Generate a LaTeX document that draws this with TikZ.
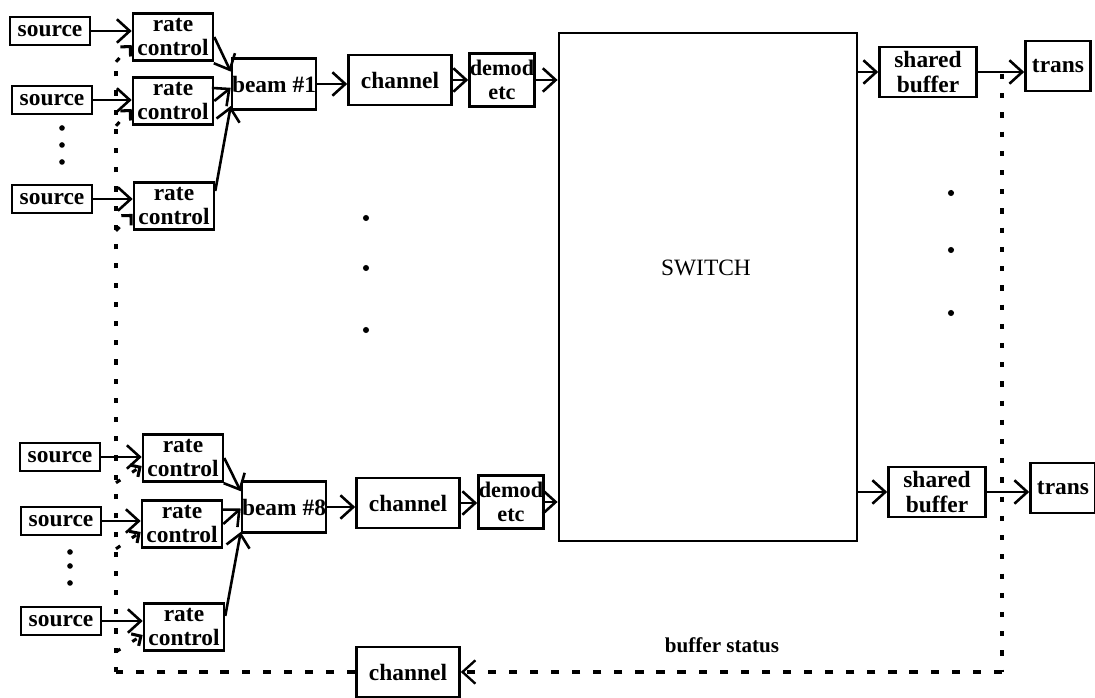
\documentclass[tikz,border=0pt]{standalone}
\usepackage{fontspec}
\setmainfont{Liberation Serif}
\usetikzlibrary{arrows.meta,positioning}
\tikzset{
  blk/.style={rectangle,draw=black,line width=1.1pt,inner sep=0pt,align=center,
    font=\bfseries\fontsize{10}{10.5}\selectfont},
  srcbox/.style={blk,minimum width=1.2cm,minimum height=0.42cm},
  ratebox/.style={blk,minimum width=1.2cm,minimum height=0.705cm},
  beambox/.style={blk,minimum width=1.26cm,minimum height=0.765cm},
  chanbox/.style={blk,minimum width=1.545cm,minimum height=0.75cm},
  demodbox/.style={blk,minimum width=0.975cm,minimum height=0.795cm,
    font=\bfseries\fontsize{9.5}{10}\selectfont},
  bufbox/.style={blk,minimum width=1.455cm,minimum height=0.75cm},
  transbox/.style={blk,minimum width=0.975cm,minimum height=0.75cm},
  switchbox/.style={rectangle,draw=black,line width=1.2pt,minimum width=4.47cm,minimum height=7.62cm},
  arrow/.style={-{Straight Barb[length=5.5pt,width=10pt]},line width=1.1pt},
  fbline/.style={line width=1.3pt,dash pattern=on 2.2pt off 6pt},
  fbhoriz/.style={line width=1.3pt,dash pattern=on 3.5pt off 5.5pt},
  fbarrow/.style={fbhoriz,-{Straight Barb[length=5.5pt,width=10pt,line width=1pt]}},
  fbbranch/.style={fbline,-{Straight Barb[length=3pt,width=6pt]}}
}
\begin{document}
\begin{tikzpicture}[x=0.015cm,y=-0.015cm]
  \useasboundingbox (0,0) rectangle (1095,698);
  \node[srcbox] (s1) at (50,31) {source};
  \node[srcbox] (s2) at (52,100) {source};
  \node[srcbox] (s3) at (52,199) {source};
  \node[ratebox] (r1) at (173,37) {rate\\control};
  \node[ratebox] (r2) at (173,101) {rate\\control};
  \node[ratebox] (r3) at (174,206) {rate\\control};
  \node[beambox] (b1) at (274,84) {beam \#1};
  \node[chanbox] (c1) at (400,80) {channel};
  \node[demodbox] (d1) at (502,80) {demod\\etc};
  \node[srcbox] (s4) at (60,457) {source};
  \node[srcbox] (s5) at (61,521) {source};
  \node[srcbox] (s6) at (61,621) {source};
  \node[ratebox] (r4) at (183,458) {rate\\control};
  \node[ratebox] (r5) at (182,524) {rate\\control};
  \node[ratebox] (r6) at (184,627) {rate\\control};
  \node[beambox] (b8) at (284,507) {beam \#8};
  \node[chanbox] (c8) at (408,503) {channel};
  \node[demodbox] (d8) at (511,502) {demod\\etc};
  \node[switchbox] (sw) at (708,287) {};
  \node[font=\fontsize{10}{10}\selectfont] (swtext) at (706,268) {SWITCH};
  \node[bufbox] (sb1) at (928,72) {shared\\buffer};
  \node[transbox] (t1) at (1058,66) {trans};
  \node[bufbox] (sb8) at (937,492) {shared\\buffer};
  \node[transbox] (t8) at (1063,488) {trans};
  \node[chanbox] (cfb) at (408,672) {channel};
  \node[font=\bfseries\fontsize{9}{9}\selectfont] (status) at (722,645) {buffer status};
  \draw[arrow] (s1.east) -- (s1.east -| r1.west);
  \draw[arrow] (s2.east) -- (s2.east -| r2.west);
  \draw[arrow] (s3.east) -- (s3.east -| r3.west);
  \draw[arrow] (r1.east) -- (b1.164);
  \draw[arrow] (r2.east) -- (b1.185);
  \draw[arrow] (r3.20) -- (b1.207);
  \draw[arrow] (b1.east) -- (b1.east -| c1.west);
  \draw[arrow] (c1.east) -- (c1.east -| d1.west);
  \draw[arrow] (d1.east) -- (d1.east -| sw.west);
  \draw[arrow] (s4.east) -- (s4.east -| r4.west);
  \draw[arrow] (s5.east) -- (s5.east -| r5.west);
  \draw[arrow] (s6.east) -- (s6.east -| r6.west);
  \draw[arrow] (r4.east) -- (b8.160);
  \draw[arrow] (r5.east) -- (b8.182);
  \draw[arrow] (r6.15) -- (b8.210);
  \draw[arrow] (b8.east) -- (b8.east -| c8.west);
  \draw[arrow] (c8.east) -- (c8.east -| d8.west);
  \draw[arrow] (d8.east) -- (d8.east -| sw.west);
  \draw[arrow] (sb1.west -| sw.east) -- (sb1.west);
  \draw[arrow] (sb1.east) -- (sb1.east -| t1.west);
  \draw[arrow] (sb8.west -| sw.east) -- (sb8.west);
  \draw[arrow] (sb8.east) -- (sb8.east -| t8.west);
  \coordinate (tap) at (1002,74);
  \coordinate (fbtop) at (116,61);
  \coordinate (fbright) at (tap |- cfb.east);
  \coordinate (fbleft) at (cfb.west -| fbtop);
  \draw[fbline] (tap) -- (fbright);
  \draw[fbarrow] (fbright) -- (cfb.east);
  \draw[fbhoriz] (cfb.west) -- (fbleft);
  \draw[fbline] (fbleft) -- (fbtop);
  \foreach \r in {r1,r2,r3,r4,r5,r6}
    \draw[fbbranch] (fbtop |- \r.south) -- ([yshift=-0.12cm]\r.west);
  \foreach \y in {128,145,162} \fill (62,\y) circle (1.2pt);
  \foreach \y in {552,566,583} \fill (70,\y) circle (1.2pt);
  \foreach \y in {218,268,330} \fill (366,\y) circle (1.3pt);
  \foreach \y in {193,250,313} \fill (951,\y) circle (1.3pt);
\end{tikzpicture}
\end{document}
